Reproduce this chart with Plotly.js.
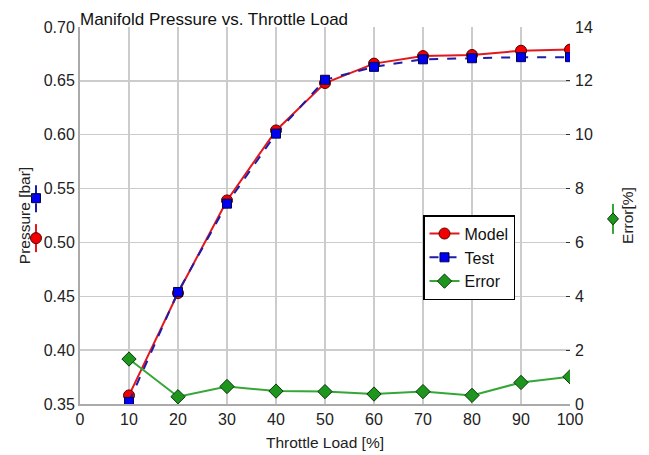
<!DOCTYPE html>
<html>
<head>
<meta charset="utf-8">
<script src="https://cdn.plot.ly/plotly-3.0.1.min.js"></script>
<style>html,body{margin:0;padding:0;background:#fff;}#chart{width:649px;height:455px;}</style>
</head>
<body>
<div id="chart"></div>
<script>
const throttleLoad = [10, 20, 30, 40, 50, 60, 70, 80, 90, 100];
const modelPressure = [0.358, 0.453, 0.539, 0.604, 0.648, 0.666, 0.673, 0.674, 0.678, 0.679];
const testPressure = [0.352, 0.454, 0.536, 0.601, 0.651, 0.663, 0.670, 0.671, 0.672, 0.672];
const errorPct = [1.67, 0.27, 0.65, 0.48, 0.46, 0.37, 0.46, 0.32, 0.80, 1.01];
const xTicks = [0, 10, 20, 30, 40, 50, 60, 70, 80, 90, 100];
const xGridVals = [10, 20, 30, 40, 50, 60, 70, 80, 90];

const FONT = 'Liberation Sans, Arial, sans-serif';

const traces = [
  {
    x: throttleLoad, y: modelPressure, name: 'Model', type: 'scatter', mode: 'lines+markers',
    line: {color: '#e3171c', width: 2},
    marker: {symbol: 'circle', size: 11, color: '#f00000', line: {color: '#5a0000', width: 1}}
  },
  {
    x: throttleLoad, y: testPressure, name: 'Test', type: 'scatter', mode: 'lines+markers',
    line: {color: '#1c1ca8', width: 2, dash: 'dash'},
    marker: {symbol: 'square', size: 9, color: '#0000f0', line: {color: '#00004a', width: 1}}
  },
  {
    x: throttleLoad, y: errorPct, name: 'Error', type: 'scatter', mode: 'lines+markers', yaxis: 'y2',
    line: {color: '#36a736', width: 2},
    marker: {symbol: 'diamond', size: 11, color: '#1e961e', line: {color: '#073807', width: 1}}
  }
];

const layout = {
  width: 649, height: 455,
  margin: {l: 80, r: 79, t: 27, b: 51},
  paper_bgcolor: '#ffffff', plot_bgcolor: '#ffffff',
  font: {family: FONT, color: '#222', size: 16},
  showlegend: true,
  title: {
    text: 'Manifold Pressure vs. Throttle Load',
    font: {family: FONT, size: 17, color: '#111'},
    xref: 'paper', x: 0, xanchor: 'left',
    yref: 'container', y: 0.958, yanchor: 'middle'
  },
  xaxis: {
    range: [0, 100], tickvals: xTicks, ticktext: xTicks.map(String),
    showgrid: false,
    minor: {tickvals: xGridVals, showgrid: true, gridcolor: '#cccccc', gridwidth: 1.5, ticks: ''},
    showline: true, linecolor: '#aaaaaa', linewidth: 2,
    zeroline: false, ticks: '',
    tickfont: {family: FONT, size: 16, color: '#222'},
    title: {text: 'Throttle Load [%]', font: {family: FONT, size: 15.5, color: '#222'}, standoff: 10}
  },
  yaxis: {
    range: [0.35, 0.70], dtick: 0.05, tick0: 0.35, tickformat: '.2f',
    showgrid: true, gridcolor: '#cccccc', gridwidth: 1.5,
    showline: true, linecolor: '#aaaaaa', linewidth: 2,
    zeroline: false, ticks: '',
    tickfont: {family: FONT, size: 16, color: '#222'},
    title: {text: 'Pressure [bar]', font: {family: FONT, size: 15.5, color: '#222'}, standoff: 9}
  },
  yaxis2: {
    overlaying: 'y', side: 'right', range: [0, 14], dtick: 2, tick0: 0,
    showgrid: false, zeroline: false, showline: false,
    ticks: 'inside', ticklen: 4, tickcolor: '#333', tickwidth: 1,
    ticklabelstandoff: 4,
    tickfont: {family: FONT, size: 16, color: '#222'},
    title: {text: 'Error[%]', font: {family: FONT, size: 15.5, color: '#222'}, standoff: 30}
  },
  legend: {
    x: 0.7, y: 0.501, xanchor: 'left', yanchor: 'top',
    bgcolor: '#ffffff', bordercolor: '#000000', borderwidth: 1.5,
    font: {family: FONT, size: 16, color: '#111'},
    tracegroupgap: 0, itemwidth: 30
  },
  shapes: [
    {type: 'line', xref: 'paper', yref: 'paper', xsizemode: 'pixel', ysizemode: 'pixel',
     xanchor: -0.0898, yanchor: 0.546, x0: 0, x1: 0, y0: -14, y1: 14,
     line: {color: '#1c1ca8', width: 2, dash: 'dash'}},
    {type: 'rect', xref: 'paper', yref: 'paper', xsizemode: 'pixel', ysizemode: 'pixel',
     xanchor: -0.0898, yanchor: 0.546, x0: -4.5, x1: 4.5, y0: -4.5, y1: 4.5,
     fillcolor: '#0000f0', line: {color: '#00004a', width: 1}},
    {type: 'line', xref: 'paper', yref: 'paper', xsizemode: 'pixel', ysizemode: 'pixel',
     xanchor: -0.0898, yanchor: 0.440, x0: 0, x1: 0, y0: -14, y1: 14,
     line: {color: '#e3171c', width: 2}},
    {type: 'circle', xref: 'paper', yref: 'paper', xsizemode: 'pixel', ysizemode: 'pixel',
     xanchor: -0.0898, yanchor: 0.440, x0: -5.5, x1: 5.5, y0: -5.5, y1: 5.5,
     fillcolor: '#f00000', line: {color: '#5a0000', width: 1}},
    {type: 'line', xref: 'paper', yref: 'paper', xsizemode: 'pixel', ysizemode: 'pixel',
     xanchor: 1.0878, yanchor: 0.491, x0: 0, x1: 0, y0: -15, y1: 15,
     line: {color: '#36a736', width: 2}},
    {type: 'path', xref: 'paper', yref: 'paper', xsizemode: 'pixel', ysizemode: 'pixel',
     xanchor: 1.0878, yanchor: 0.491, path: 'M -5.5,0 L 0,6 L 5.5,0 L 0,-6 Z',
     fillcolor: '#1e961e', line: {color: '#073807', width: 1}}
  ]
};

Plotly.newPlot('chart', traces, layout, {displayModeBar: false, staticPlot: true});
</script>
</body>
</html>
